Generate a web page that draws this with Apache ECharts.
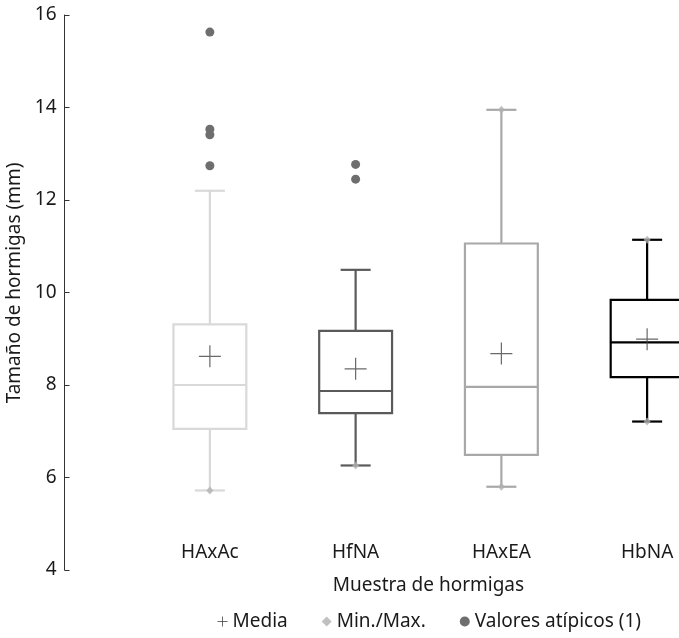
<!DOCTYPE html>
<html>
<head>
<meta charset="utf-8">
<script src="https://cdn.jsdelivr.net/npm/echarts@6/dist/echarts.min.js"></script>
<style>html,body{margin:0;padding:0;background:#fff;overflow:hidden}#c{width:679px;height:638px}</style>
</head>
<body>
<div id="c"></div>
<script>
var categories = ['HAxAc', 'HfNA', 'HAxEA', 'HbNA'];
// whisker low, Q1, median, Q3, whisker high
var whiskerLow = [5.72, 6.26, 5.80, 7.21];
var q1Values = [7.05, 7.39, 6.49, 8.17];
var medianValues = [8.00, 7.87, 7.96, 8.92];
var q3Values = [9.31, 9.17, 11.06, 9.84];
var whiskerHigh = [12.20, 10.49, 13.95, 11.14];
var meanValues = [8.62, 8.35, 8.68, 8.99];
var minValues = [5.72, 6.26, 5.80, 7.21];
var maxValues = [15.63, 12.77, 13.95, 11.14];
var outlierCats = ['HAxAc', 'HAxAc', 'HAxAc', 'HAxAc', 'HfNA', 'HfNA'];
var outlierValues = [15.63, 13.53, 13.41, 12.74, 12.77, 12.45];
var yTicks = [4, 6, 8, 10, 12, 14, 16];

var boxColors = ['#d9d9d9', '#5a5a5a', '#a8a8a8', '#000000'];
var FONT = 'Noto Sans';
var FS = 19;

var boxData = categories.map(function (c, i) {
  return [i, whiskerLow[i], q1Values[i], medianValues[i], q3Values[i], whiskerHigh[i]];
});
var meanData = categories.map(function (c, i) { return [c, meanValues[i]]; });
var minMaxData = [];
categories.forEach(function (c, i) {
  minMaxData.push([c, minValues[i]]);
  minMaxData.push([c, maxValues[i]]);
});
var outlierData = outlierCats.map(function (c, i) { return [c, outlierValues[i]]; });

var chart = echarts.init(document.getElementById('c'), null, {renderer: 'canvas'});
chart.setOption({
  animation: false,
  backgroundColor: '#ffffff',
  textStyle: {fontFamily: FONT, color: '#1a1a1a'},
  grid: {left: 137, width: 583, top: 15, height: 555, containLabel: false, outerBoundsMode: 'none'},
  legend: {
    bottom: 2,
    left: 210,
    itemGap: 34,
    itemWidth: 10,
    itemHeight: 10,
    textStyle: {fontFamily: FONT, fontSize: FS, color: '#1a1a1a'},
    data: [
      {name: 'Media', icon: 'path://M0,10L20,10M10,0L10,20', itemStyle: {color: 'none', borderColor: '#444', borderWidth: 1}},
      {name: 'Min./Max.', icon: 'diamond', itemStyle: {color: '#b0b0b0'}},
      {name: 'Valores atípicos (1)', icon: 'circle', itemStyle: {color: '#6e6e6e'}}
    ]
  },
  xAxis: {
    type: 'category',
    data: categories,
    boundaryGap: true,
    axisLine: {show: false},
    axisTick: {show: false},
    axisLabel: {margin: -27, fontSize: FS, color: '#1a1a1a', fontFamily: FONT},
    name: 'Muestra de hormigas',
    nameLocation: 'middle',
    nameGap: 0,
    nameTextStyle: {fontSize: FS, color: '#1a1a1a', fontFamily: FONT, verticalAlign: 'top'},
    splitLine: {show: false}
  },
  yAxis: {
    type: 'value',
    min: yTicks[0],
    max: yTicks[yTicks.length - 1],
    interval: 2,
    offset: 72.5,
    axisLine: {show: true, lineStyle: {color: '#333', width: 1}},
    axisTick: {show: true, inside: true, length: 5, lineStyle: {color: '#333'}},
    axisLabel: {margin: 8, fontSize: FS, color: '#1a1a1a', fontFamily: FONT},
    splitLine: {show: false},
    name: 'Tamaño de hormigas (mm)',
    nameLocation: 'middle',
    nameGap: 35,
    nameTextStyle: {fontSize: FS, color: '#1a1a1a', fontFamily: FONT, padding: [0, 0, 0, 19]}
  },
  series: [
    {
      type: 'custom',
      name: 'box',
      data: boxData,
      encode: {x: 0, y: [1, 2, 3, 4, 5]},
      clip: false,
      z: 2,
      renderItem: function (params, api) {
        var idx = api.value(0);
        var lo = api.coord([idx, api.value(1)]);
        var q1 = api.coord([idx, api.value(2)]);
        var med = api.coord([idx, api.value(3)]);
        var q3 = api.coord([idx, api.value(4)]);
        var hi = api.coord([idx, api.value(5)]);
        var band = api.size([1, 0])[0];
        var bw = band * 0.5, cw = band * 0.206;
        var x = lo[0];
        var st = {stroke: boxColors[params.dataIndex], lineWidth: 2.2, fill: null};
        return {
          type: 'group',
          children: [
            {type: 'line', shape: {x1: x, y1: hi[1], x2: x, y2: q3[1]}, style: st},
            {type: 'line', shape: {x1: x, y1: q1[1], x2: x, y2: lo[1]}, style: st},
            {type: 'line', shape: {x1: x - cw / 2, y1: hi[1], x2: x + cw / 2, y2: hi[1]}, style: st},
            {type: 'line', shape: {x1: x - cw / 2, y1: lo[1], x2: x + cw / 2, y2: lo[1]}, style: st},
            {type: 'rect', shape: {x: x - bw / 2, y: q3[1], width: bw, height: q1[1] - q3[1]}, style: {stroke: boxColors[params.dataIndex], lineWidth: 2.2, fill: '#fff'}},
            {type: 'line', shape: {x1: x - bw / 2, y1: med[1], x2: x + bw / 2, y2: med[1]}, style: st}
          ]
        };
      }
    },
    {
      type: 'scatter',
      name: 'Min./Max.',
      data: minMaxData,
      symbol: 'diamond',
      symbolSize: [7, 8],
      itemStyle: {color: '#b0b0b0'},
      z: 3
    },
    {
      type: 'scatter',
      name: 'Valores atípicos (1)',
      data: outlierData,
      symbol: 'circle',
      symbolSize: 9,
      itemStyle: {color: '#6e6e6e', opacity: 1},
      z: 4
    },
    {
      type: 'scatter',
      name: 'Media',
      data: meanData,
      symbol: 'path://M0,10L20,10M10,0L10,20',
      symbolSize: 22,
      itemStyle: {color: 'none', borderColor: '#444', borderWidth: 1.2},
      z: 5
    }
  ]
});
</script>
</body>
</html>
